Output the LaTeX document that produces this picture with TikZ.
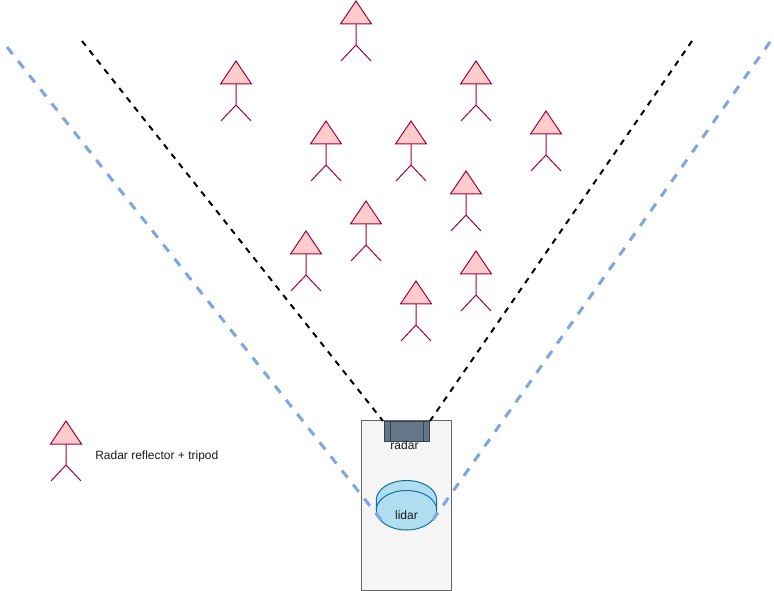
\documentclass[tikz,border=0pt]{standalone}
\usepackage{fontspec}
\setmainfont{Liberation Sans}
\definecolor{rfill}{HTML}{FFCCCC}
\definecolor{rline}{HTML}{A50040}
\definecolor{boxfill}{HTML}{F5F5F5}
\definecolor{boxline}{HTML}{666666}
\definecolor{radfill}{HTML}{647687}
\definecolor{radline}{HTML}{314354}
\definecolor{lidfill}{HTML}{B1DDF0}
\definecolor{lidline}{HTML}{10739E}
\definecolor{fovblue}{HTML}{7EA6E0}
\tikzset{
  x=0.75pt,y=-0.75pt,
  lab/.style={font=\fontsize{9}{10.5}\selectfont,text=black!90,inner sep=0pt},
  blackfov/.style={black,line width=1.5pt,dash pattern=on 4.5pt off 4.5pt},
  bluefov/.style={fovblue,line width=2.25pt,dash pattern=on 6.75pt off 6.75pt},
  reflector/.pic={
    \draw[rline,fill=rfill,line width=0.75pt,line join=miter] (0,0) -- (15.5,23) -- (-15.5,23) -- cycle;
    \draw[rline,line width=0.75pt] (0,23) -- (0,44) (-15,60) -- (0,44) -- (15,60);
  }
}
\begin{document}
\begin{tikzpicture}
\useasboundingbox (0,0) rectangle (774,591);
\fill[white] (0,0) rectangle (774,591);
% vehicle
\node[draw=boxline,fill=boxfill,line width=0.75pt,outer sep=0pt,minimum width=67.5pt,minimum height=127.5pt,inner sep=0pt,anchor=north west] (car) at (361.5,420.5) {};
% radar
\node[draw=radline,fill=radfill,line width=0.75pt,outer sep=0pt,minimum width=33.75pt,minimum height=15pt,inner sep=0pt,anchor=north west] (radar) at (384,421) {};
\draw[radline,line width=0.75pt] (390,421) -- (390,441) (423,421) -- (423,441);
\node[lab] (radarlabel) at (404.5,445) {radar};
% lidar
\fill[lidfill,draw=lidline,line width=0.75pt] (376.3,500) arc[start angle=180,end angle=360,x radius=30.2,y radius=19.5] -- (436.7,510) arc[start angle=0,end angle=180,x radius=30.2,y radius=20] -- cycle;
\draw[lidline,line width=0.75pt] (376.3,510) arc[start angle=180,end angle=360,x radius=30.2,y radius=19.5];
\node[lab] (lidar) at (406.5,515) {lidar};
% fields of view
\coordinate (bl1) at (82,41);  \coordinate (bl2) at (383,421);
\coordinate (br1) at (692,41); \coordinate (br2) at (430,421);
\coordinate (cl1) at (7,47);   \coordinate (cl2) at (381.5,520.5);
\coordinate (cr1) at (770,42); \coordinate (cr2) at (432,521);
\draw[blackfov] (bl1) -- (bl2);
\draw[blackfov] (br1) -- (br2);
\draw[bluefov] (cl1) -- (cl2);
\draw[bluefov] (cr1) -- (cr2);
% reflectors
\foreach \px/\py in {356/1,236/61,476/61,546/111,326/121,411/121,466/171,366/201,306/231,476/251,416/281,66/421}
  \pic at (\px,\py) {reflector};
\node[lab,anchor=west] (legend) at (95,456) {Radar reflector + tripod};
\end{tikzpicture}
\end{document}
